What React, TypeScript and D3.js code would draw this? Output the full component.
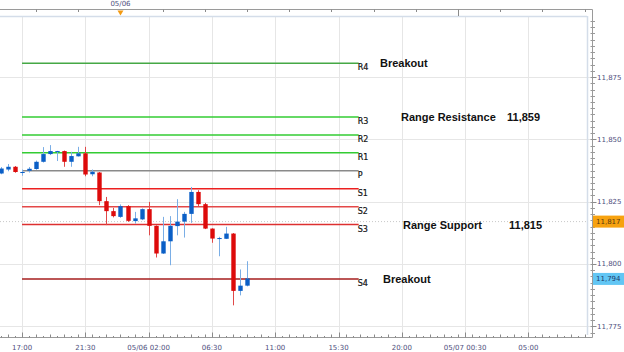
import React from "react";
import * as d3 from "d3";

// 30-minute candles, 05/05 15:30 -> 05/06 09:00
const candleStart = Date.UTC(2013, 4, 5, 15, 30);
const opens = [
  11836.3, 11837.9, 11839.0, 11836.7, 11837.4, 11838.1, 11841.0, 11844.1, 11845.0, 11845.3,
  11841.0, 11843.2, 11844.4, 11836.0, 11836.7, 11825.2, 11821.2, 11818.9, 11823.2, 11817.2,
  11817.9, 11822.0, 11815.3, 11804.2, 11809.1, 11815.2, 11817.0, 11820.1, 11828.9, 11824.0,
  11814.2, 11810.2, 11810.1, 11812.2, 11789.2, 11791.3,
];
const highs = [
  11838.9, 11840.1, 11839.3, 11837.9, 11838.9, 11841.5, 11846.9, 11847.7, 11845.4, 11845.5,
  11845.0, 11847.0, 11847.0, 11837.9, 11836.9, 11826.9, 11822.5, 11823.9, 11823.6, 11820.9,
  11822.3, 11824.9, 11815.5, 11818.9, 11819.2, 11826.0, 11820.9, 11830.9, 11829.6, 11824.5,
  11814.3, 11810.9, 11814.9, 11812.4, 11797.8, 11801.1,
];
const lows = [
  11836.0, 11837.2, 11836.6, 11835.4, 11836.7, 11837.8, 11840.7, 11843.7, 11841.3, 11839.0,
  11839.0, 11843.1, 11835.2, 11835.2, 11823.6, 11815.6, 11818.7, 11818.5, 11816.9, 11816.2,
  11817.6, 11811.5, 11802.6, 11804.0, 11799.5, 11811.5, 11810.6, 11816.5, 11823.2, 11814.0,
  11808.5, 11803.1, 11810.0, 11783.4, 11787.4, 11791.0,
];
const closes = [
  11838.3, 11839.0, 11836.9, 11836.9, 11838.2, 11841.0, 11844.1, 11845.3, 11845.3, 11841.0,
  11843.3, 11844.4, 11835.9, 11837.0, 11825.2, 11821.2, 11819.2, 11823.2, 11817.3, 11818.3,
  11822.0, 11815.3, 11804.2, 11809.1, 11815.3, 11817.0, 11820.1, 11828.9, 11824.0, 11814.2,
  11810.2, 11810.4, 11812.2, 11789.2, 11791.3, 11794.2,
];

// pivot levels
const levelNames = ["R4", "R3", "R2", "R1", "P", "S1", "S2", "S3", "S4"];
const levelValues = [11880.5, 11859, 11851.8, 11844.6, 11837.4, 11830.2, 11823, 11815.8, 11794];
const levelFrom = Date.UTC(2013, 4, 5, 17, 0);
const levelTo = Date.UTC(2013, 4, 6, 16, 56);

const notes = [
  { text: "Breakout", value: 11880.5 },
  { text: "Range Resistance", value: 11859, price: "11,859" },
  { text: "Range Support", value: 11815.5, price: "11,815" },
  { text: "Breakout", value: 11794 },
];

const yTicks = [11775, 11800, 11825, 11850, 11875];
const xLabelTimes = [
  Date.UTC(2013, 4, 5, 17, 0),
  Date.UTC(2013, 4, 5, 21, 30),
  Date.UTC(2013, 4, 6, 2, 0),
  Date.UTC(2013, 4, 6, 6, 30),
  Date.UTC(2013, 4, 6, 11, 0),
  Date.UTC(2013, 4, 6, 15, 30),
  Date.UTC(2013, 4, 6, 20, 0),
  Date.UTC(2013, 4, 7, 0, 30),
  Date.UTC(2013, 4, 7, 5, 0),
];
const xLabels = ["17:00", "21:30", "05/06 02:00", "06:30", "11:00", "15:30", "20:00", "05/07 00:30", "05:00"];

const lastPrice = 11794;
const markPrice = 11817;

const levelColor: Record<string, string> = {
  R4: "#45a845", R3: "#33cc33", R2: "#33cc33", R1: "#33cc33", P: "#8a8a8a",
  S1: "#ec2020", S2: "#e44848", S3: "#dd3030", S4: "#a61e1e",
};

const W = 624;
const H = 352;
const plot = { left: 0, right: 587, top: 16, bottom: 335 };
const axisX = 592.5;
const topAxisY = 9.5;
const bottomAxisY = 337.5;
const HOUR = 3600e3;

const App: React.FC = () => {
  const x = d3
    .scaleUtc()
    .domain([Date.UTC(2013, 4, 5, 15, 26), Date.UTC(2013, 4, 7, 9, 10)])
    .range([plot.left, plot.right]);
  const y = d3.scaleLinear().domain([11771.5, 11899.5]).range([plot.bottom, plot.top]);

  const axisFont = "DejaVu Sans, sans-serif";
  const axisColor = "#4f4f7e";
  const end = +x.domain()[1];

  // bottom ticks every 30 minutes
  const halfHours: number[] = [];
  for (let t = Date.UTC(2013, 4, 5, 15, 30); t <= end; t += HOUR / 2) halfHours.push(t);
  // top ticks every 3 hours
  const threeHours: number[] = [];
  for (let t = Date.UTC(2013, 4, 5, 18, 0); t <= end; t += 3 * HOUR) threeHours.push(t);
  // right minor ticks
  const minorY = d3.range(11772.5, 11899, 2.5);

  const candles = opens.map((o, i) => ({
    t: candleStart + i * HOUR / 2,
    o, h: highs[i], l: lows[i], c: closes[i],
  }));

  return (
    <svg width={W} height={H} style={{ position: "absolute", left: 0, top: 0, background: "#fff" }}>
      {/* grid */}
      {yTicks.map((v) => (
        <line key={"gy" + v} x1={plot.left} x2={axisX} y1={Math.round(y(v)) + 0.5} y2={Math.round(y(v)) + 0.5} stroke="#e6e6e6" />
      ))}
      {xLabelTimes.map((t) => (
        <line key={"gx" + t} x1={Math.round(x(t)) + 0.5} x2={Math.round(x(t)) + 0.5} y1={plot.top} y2={plot.bottom} stroke="#e6e6e6" />
      ))}

      {/* plot frame */}
      <line x1={plot.left} x2={plot.right} y1={plot.top + 0.5} y2={plot.top + 0.5} stroke="#d4dde9" strokeWidth={1.5} />
      <line x1={plot.right + 0.5} x2={plot.right + 0.5} y1={plot.top} y2={plot.bottom} stroke="#d4dde9" strokeWidth={1.5} />

      {/* current price dotted line */}
      <line x1={plot.left} x2={plot.right} y1={y(markPrice)} y2={y(markPrice)} stroke="#c8c8c8" strokeDasharray="1,2" />

      {/* pivot levels */}
      {levelNames.map((n, i) => (
        <g key={n}>
          <line x1={x(levelFrom)} x2={x(levelTo)} y1={y(levelValues[i])} y2={y(levelValues[i])} stroke={levelColor[n]} strokeWidth={1.5} />
          <text x={x(levelTo) - 1} y={y(levelValues[i]) + 7} fontFamily={axisFont} fontSize={8} fill="#111" stroke="#111" strokeWidth={0.2}>{n}</text>
        </g>
      ))}

      {/* candles */}
      {candles.map((d) => {
        const up = d.c >= d.o;
        const cx = Math.round(x(d.t)) + 0.5;
        const top = y(Math.max(d.o, d.c));
        const bot = y(Math.min(d.o, d.c));
        return (
          <g key={d.t}>
            <line x1={cx} x2={cx} y1={y(d.h)} y2={y(d.l)} stroke={up ? "#7aaee6" : "#e04848"} />
            <rect x={cx - 2.2} y={top} width={4.4} height={Math.max(1, bot - top)} fill={up ? "#0b5fc6" : "#dd0b0b"} />
          </g>
        );
      })}

      {/* annotations */}
      <g fontFamily="Liberation Sans, Arial, sans-serif" fontWeight="bold" fontSize={11} fill="#111">
        <text x={380} y={y(notes[0].value) + 4}>{notes[0].text}</text>
        <text x={401} y={y(notes[1].value) + 4}>{notes[1].text}</text>
        <text x={507} y={y(notes[1].value) + 4}>{notes[1].price}</text>
        <text x={403} y={y(notes[2].value) + 4}>{notes[2].text}</text>
        <text x={509} y={y(notes[2].value) + 4}>{notes[2].price}</text>
        <text x={383} y={y(notes[3].value) + 4}>{notes[3].text}</text>
      </g>

      {/* top axis */}
      <line x1={0} x2={axisX} y1={topAxisY} y2={topAxisY} stroke="#9a9a9a" />
      {threeHours.map((t) => {
        const xx = Math.round(x(t)) + 0.5;
        const isDay = new Date(t).getUTCHours() === 0;
        if (isDay && new Date(t).getUTCDate() === 6) return null;
        return <line key={"tt" + t} x1={xx} x2={xx} y1={topAxisY} y2={isDay ? plot.top : topAxisY + 2.5} stroke="#8a8a8a" />;
      })}
      {(() => {
        const mx = x(Date.UTC(2013, 4, 6, 0, 0));
        return (
          <g>
            <path d={`M${mx - 3},${topAxisY + 1}L${mx + 3},${topAxisY + 1}L${mx},${topAxisY + 6}Z`} fill="#f39a12" />
            <text x={mx} y={6} textAnchor="middle" fontFamily={axisFont} fontSize={7} fill={axisColor}>05/06</text>
          </g>
        );
      })()}

      {/* right axis */}
      <line x1={axisX} x2={axisX} y1={topAxisY} y2={bottomAxisY} stroke="#9a9a9a" />
      {minorY.map((v) => (
        <line key={"my" + v} x1={axisX - 2} x2={axisX + 2.5} y1={Math.round(y(v)) + 0.5} y2={Math.round(y(v)) + 0.5} stroke="#9a9a9a" />
      ))}
      {yTicks.map((v) => (
        <g key={"ly" + v}>
          <line x1={axisX} x2={axisX + 4} y1={Math.round(y(v)) + 0.5} y2={Math.round(y(v)) + 0.5} stroke="#8a8a8a" />
          <text x={597} y={y(v) + 2.5} fontFamily={axisFont} fontSize={7} fill={axisColor}>{d3.format(",")(v)}</text>
        </g>
      ))}
      <rect x={593} y={y(markPrice) - 6} width={31} height={12} fill="#f7a20f" />
      <text x={596} y={y(markPrice) + 2.5} fontFamily={axisFont} fontSize={7} fill="#5a3a10">{d3.format(",")(markPrice)}</text>
      <rect x={593} y={y(lastPrice) - 6} width={31} height={12} fill="#62c6f4" />
      <text x={596} y={y(lastPrice) + 2.5} fontFamily={axisFont} fontSize={7} fill="#1b3a6a">{d3.format(",")(lastPrice)}</text>

      {/* bottom axis */}
      <line x1={0} x2={axisX} y1={bottomAxisY} y2={bottomAxisY} stroke="#9a9a9a" />
      {halfHours.map((t) => {
        const xx = Math.round(x(t)) + 0.5;
        const isMajor = (t - xLabelTimes[0]) % (4.5 * HOUR) === 0;
        const onHour = new Date(t).getUTCMinutes() === 0;
        const len = isMajor ? 5 : onHour ? 3 : 1.5;
        return <line key={"bt" + t} x1={xx} x2={xx} y1={bottomAxisY - len} y2={bottomAxisY} stroke="#8a8a8a" />;
      })}
      {xLabelTimes.map((t, i) => (
        <text key={"xl" + t} x={x(t)} y={350} textAnchor="middle" fontFamily={axisFont} fontSize={7} fill={axisColor}>{xLabels[i]}</text>
      ))}
    </svg>
  );
};

export default App;
